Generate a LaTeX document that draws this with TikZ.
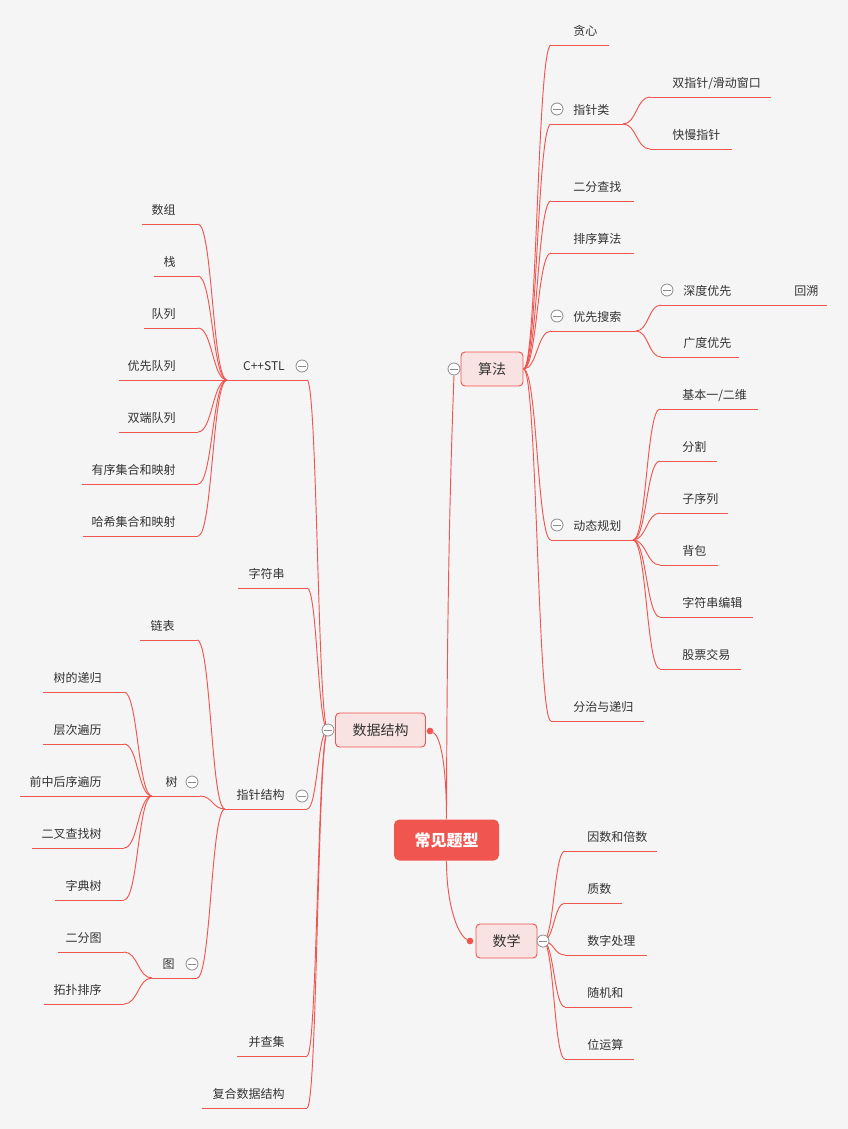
\documentclass[tikz,border=0pt]{standalone}
\usepackage{fontspec}
\setmainfont{Noto Sans CJK SC}
\usetikzlibrary{calc,backgrounds}

\definecolor{linered}{HTML}{F0554F}
\definecolor{topicfill}{HTML}{F8E3E2}
\definecolor{rootred}{HTML}{F0554F}
\definecolor{foldgray}{HTML}{8C8C8C}
\definecolor{textgray}{HTML}{333333}
\definecolor{paper}{HTML}{F5F5F5}

\tikzset{
  branch/.style={linered, line width=0.7pt},
  leaf/.style={inner sep=0pt, text height=6.9pt, text depth=0.3pt, text=textgray, font=\fontsize{9}{10}\selectfont},
  topic/.style={draw=linered, fill=topicfill, line width=0.7pt, rounded corners=3pt, minimum height=25.5pt, text=textgray, font=\fontsize{10.5}{12}\selectfont},
  rootbox/.style={fill=rootred, rounded corners=4pt, minimum width=78.75pt, minimum height=30.75pt, text=white, font=\fontsize{12}{14}\selectfont\bfseries},
  fold/.style={circle, draw=foldgray, fill=white, line width=0.6pt, minimum size=9pt, inner sep=0pt,
    path picture={\draw[foldgray, line width=0.6pt] ([xshift=-2.7pt]path picture bounding box.center) -- ([xshift=2.7pt]path picture bounding box.center);}},
  joint/.style={circle, fill=linered, inner sep=0pt, minimum size=5pt},
}

% leaf with text to the right: name, left x, right x, underline y, text
\newcommand{\leafR}[5]{%
  \coordinate (#1-l) at (#2,#4);
  \coordinate (#1-r) at (#3,#4);
  \node[leaf, anchor=west] (#1) at (#2+22,#4-14) {#5};
  \draw[branch] (#1-l) -- (#1-r);
}
% leaf with text to the left
\newcommand{\leafL}[5]{%
  \coordinate (#1-l) at (#2,#4);
  \coordinate (#1-r) at (#3,#4);
  \node[leaf, anchor=east] (#1) at (#3-22,#4-14) {#5};
  \draw[branch] (#1-l) -- (#1-r);
}
% curved connector, flat at both ends
\newcommand{\branchto}[2]{%
  \draw[branch] let \p1=(#1), \p2=(#2) in
    (\p1) .. controls ({0.5*\x1+0.5*\x2},\y1) and ({0.5*\x1+0.5*\x2},\y2) .. (\p2);
}

\begin{document}
\begin{tikzpicture}[x=0.75pt,y=-0.75pt]
  \useasboundingbox (0,0) rectangle (848,1129);

  \node[rootbox] (root) at (446.5,840) {常见题型};

  % algorithms
  \node[topic, minimum width=46.5pt] (algo) at (492,369) {算法};
  \leafR{greedy}{551}{609}{45}{贪心}
  \leafR{twoptr}{551}{623}{124}{指针类}
  \leafR{slide}{650}{771}{97}{双指针/滑动窗口}
  \leafR{fastslow}{650}{732}{149}{快慢指针}
  \leafR{bisect}{551}{634}{201}{二分查找}
  \leafR{sorting}{551}{634}{253}{排序算法}
  \leafR{search}{551}{636}{331}{优先搜索}
  \leafR{dfs}{661}{772}{305}{深度优先}
  \leafR{backtrack}{772}{827}{305}{回溯}
  \leafR{bfs}{661}{739}{357}{广度优先}
  \leafR{dp}{551}{633}{540}{动态规划}
  \leafR{dpbasic}{660}{758}{409}{基本一/二维}
  \leafR{dpsplit}{660}{717}{461}{分割}
  \leafR{dpseq}{660}{728}{513}{子序列}
  \leafR{dpknap}{660}{718}{565}{背包}
  \leafR{dpedit}{660}{753}{617}{字符串编辑}
  \leafR{dpstock}{660}{741}{669}{股票交易}
  \leafR{divide}{551}{644}{721}{分治与递归}

  % maths
  \node[topic, minimum width=45.75pt] (math) at (506.5,941) {数学};
  \leafR{factor}{565}{657}{851}{因数和倍数}
  \leafR{prime}{565}{622}{903}{质数}
  \leafR{digit}{565}{647}{955}{数字处理}
  \leafR{random}{565}{632}{1007}{随机和}
  \leafR{bitop}{565}{634}{1059}{位运算}

  % data structures
  \node[topic, minimum width=67.5pt] (ds) at (380.5,730) {数据结构};
  \leafL{stl}{227}{307}{380}{C++STL}
  \leafL{array}{142}{198}{224}{数组}
  \leafL{stack}{154}{198}{276}{栈}
  \leafL{queue}{144}{198}{328}{队列}
  \leafL{pqueue}{119}{198}{380}{优先队列}
  \leafL{deque}{119}{198}{432}{双端队列}
  \leafL{ordered}{82}{198}{484}{有序集合和映射}
  \leafL{hashed}{83}{198}{536}{哈希集合和映射}
  \leafL{string}{238}{307}{588}{字符串}
  \leafL{ptrs}{225}{307}{809}{指针结构}
  \leafL{list}{140}{197}{640}{链表}
  \leafL{tree}{152}{200}{796}{树}
  \leafL{treerec}{43}{124}{692}{树的递归}
  \leafL{level}{43}{124}{744}{层次遍历}
  \leafL{order}{20}{124}{796}{前中后序遍历}
  \leafL{bst}{32}{124}{848}{二叉查找树}
  \leafL{trie}{55}{124}{900}{字典树}
  \leafL{graph}{152}{197}{978}{图}
  \leafL{bipart}{58}{124}{952}{二分图}
  \leafL{topo}{44}{124}{1004}{拓扑排序}
  \leafL{dsu}{237}{307}{1056}{并查集}
  \leafL{compound}{202}{307}{1108}{复合数据结构}

  % collapse marks and joints
  \node[fold] (algofold) at (454,369) {};
  \node[fold] (twoptrfold) at (557,109) {};
  \node[fold] (searchfold) at (557,316) {};
  \node[fold] (dfsfold) at (667,290) {};
  \node[fold] (dpfold) at (557,525) {};
  \node[fold] (mathfold) at (543,941) {};
  \node[fold] (dsfold) at (328,730) {};
  \node[fold] (stlfold) at (302,366) {};
  \node[fold] (ptrsfold) at (302,796) {};
  \node[fold] (treefold) at (192,782) {};
  \node[fold] (graphfold) at (192,964) {};
  \node[joint] (dsdot) at (430,731) {};
  \node[joint] (mathdot) at (470,941) {};

  \begin{scope}[on background layer]
    \fill[paper] (0,0) rectangle (848,1129);
    \draw[branch] (root.north) .. controls (447,560) and (452,430) .. (algofold.south);
    \draw[branch] (dsdot) .. controls +(12,6) and +(0,-45) .. (root.north);
    \draw[branch] (root.south) .. controls +(0,45) and +(-12,-6) .. (mathdot);
    \foreach \kid in {greedy,twoptr,bisect,sorting,search,dp,divide}
      {\branchto{algo.east}{\kid-l}}
    \branchto{twoptr-r}{slide-l}
    \branchto{twoptr-r}{fastslow-l}
    \branchto{search-r}{dfs-l}
    \branchto{search-r}{bfs-l}
    \foreach \kid in {dpbasic,dpsplit,dpseq,dpknap,dpedit,dpstock}
      {\branchto{dp-r}{\kid-l}}
    \foreach \kid in {factor,prime,digit,random,bitop}
      {\branchto{mathfold.center}{\kid-l}}
    \foreach \kid in {stl,string,ptrs,dsu,compound}
      {\branchto{dsfold.center}{\kid-r}}
    \foreach \kid in {array,stack,queue,pqueue,deque,ordered,hashed}
      {\branchto{stl-l}{\kid-r}}
    \foreach \kid in {list,tree,graph}
      {\branchto{ptrs-l}{\kid-r}}
    \foreach \kid in {treerec,level,order,bst,trie}
      {\branchto{tree-l}{\kid-r}}
    \branchto{graph-l}{bipart-r}
    \branchto{graph-l}{topo-r}
  \end{scope}
\end{tikzpicture}
\end{document}
